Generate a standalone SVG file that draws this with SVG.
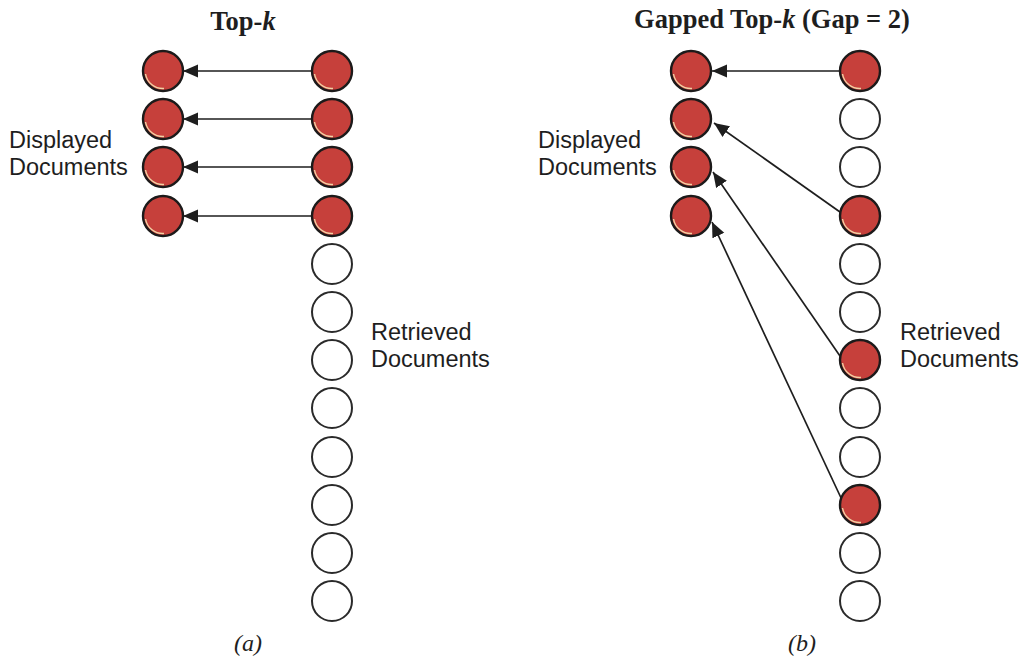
<svg xmlns="http://www.w3.org/2000/svg" width="1023" height="662" viewBox="0 0 1023 662">
<style>
  .on { fill: #c6403b; stroke: #1c1a1a; stroke-width: 2.4; }
  .off { fill: #ffffff; stroke: #2a2a2a; stroke-width: 2; }
  .hl { fill: none; stroke: #f2d3a6; stroke-width: 1.4; }
  .lbl { font-family: "Liberation Sans", Arial, sans-serif; font-size: 23.5px; fill: #1e1e1e; }
  .ttl { font-family: "Liberation Serif", "Times New Roman", serif; font-size: 26.5px; font-weight: bold; fill: #1e1e1e; }
  .cap { font-family: "Liberation Serif", "Times New Roman", serif; font-size: 24px; font-style: italic; fill: #1e1e1e; }
  .con { stroke: #1e1e1e; stroke-width: 1.7; fill: none; marker-end: url(#ah); }
</style>
<defs>
  <marker id="ah" markerUnits="userSpaceOnUse" markerWidth="16" markerHeight="14" refX="15" refY="6.5" orient="auto">
    <path d="M0,0 L15,6.5 L0,13 Z" fill="#1e1e1e"/>
  </marker>
  <g id="filled">
    <circle r="20" class="on"/>
    <path class="hl" d="M -17.5 3 A 17.5 17.5 0 0 0 1 17.5"/>
  </g>
  <circle id="empty" r="20" class="off"/>
</defs>
<rect width="1023" height="662" fill="#ffffff"/>

<text class="ttl" x="243" y="30" text-anchor="middle">Top-<tspan font-style="italic">k</tspan></text>
<text class="ttl" x="772" y="28" text-anchor="middle">Gapped Top-<tspan font-style="italic">k</tspan> (Gap = 2)</text>

<g id="connectors">
  <line class="con" x1="312" y1="71" x2="183" y2="71"/>
  <line class="con" x1="312" y1="119" x2="183" y2="119"/>
  <line class="con" x1="312" y1="167" x2="183" y2="167"/>
  <line class="con" x1="312" y1="216" x2="183" y2="216"/>
  <line class="con" x1="840" y1="71" x2="712" y2="71"/>
  <line class="con" x1="840" y1="212" x2="714" y2="123"/>
  <line class="con" x1="840" y1="356" x2="713" y2="172"/>
  <line class="con" x1="842" y1="500" x2="712" y2="222"/>
</g>

<!-- Panel (a) displayed -->
<g id="a-disp-1"><use href="#filled" x="163" y="71"/></g>
<g id="a-disp-2"><use href="#filled" x="163" y="119"/></g>
<g id="a-disp-3"><use href="#filled" x="163" y="167"/></g>
<g id="a-disp-4"><use href="#filled" x="163" y="216"/></g>
<!-- Panel (a) retrieved -->
<g id="a-ret-1"><use href="#filled" x="332" y="71"/></g>
<g id="a-ret-2"><use href="#filled" x="332" y="119"/></g>
<g id="a-ret-3"><use href="#filled" x="332" y="167"/></g>
<g id="a-ret-4"><use href="#filled" x="332" y="216"/></g>
<g id="a-ret-5"><use href="#empty" x="332" y="264"/></g>
<g id="a-ret-6"><use href="#empty" x="332" y="312"/></g>
<g id="a-ret-7"><use href="#empty" x="332" y="360"/></g>
<g id="a-ret-8"><use href="#empty" x="332" y="408"/></g>
<g id="a-ret-9"><use href="#empty" x="332" y="457"/></g>
<g id="a-ret-10"><use href="#empty" x="332" y="505"/></g>
<g id="a-ret-11"><use href="#empty" x="332" y="553"/></g>
<g id="a-ret-12"><use href="#empty" x="332" y="601"/></g>

<!-- Panel (b) displayed -->
<g id="b-disp-1"><use href="#filled" x="691" y="71"/></g>
<g id="b-disp-2"><use href="#filled" x="691" y="119"/></g>
<g id="b-disp-3"><use href="#filled" x="691" y="167"/></g>
<g id="b-disp-4"><use href="#filled" x="691" y="216"/></g>
<!-- Panel (b) retrieved -->
<g id="b-ret-1"><use href="#filled" x="860" y="71"/></g>
<g id="b-ret-2"><use href="#empty" x="860" y="119"/></g>
<g id="b-ret-3"><use href="#empty" x="860" y="167"/></g>
<g id="b-ret-4"><use href="#filled" x="860" y="216"/></g>
<g id="b-ret-5"><use href="#empty" x="860" y="264"/></g>
<g id="b-ret-6"><use href="#empty" x="860" y="312"/></g>
<g id="b-ret-7"><use href="#filled" x="860" y="360"/></g>
<g id="b-ret-8"><use href="#empty" x="860" y="408"/></g>
<g id="b-ret-9"><use href="#empty" x="860" y="457"/></g>
<g id="b-ret-10"><use href="#filled" x="860" y="505"/></g>
<g id="b-ret-11"><use href="#empty" x="860" y="553"/></g>
<g id="b-ret-12"><use href="#empty" x="860" y="601"/></g>

<g id="labels">
  <text class="lbl" x="9" y="148">Displayed</text>
  <text class="lbl" x="9" y="175">Documents</text>
  <text class="lbl" x="371" y="340">Retrieved</text>
  <text class="lbl" x="371" y="367">Documents</text>
  <text class="lbl" x="538" y="148">Displayed</text>
  <text class="lbl" x="538" y="175">Documents</text>
  <text class="lbl" x="900" y="340">Retrieved</text>
  <text class="lbl" x="900" y="367">Documents</text>
</g>

<text class="cap" x="248" y="651" text-anchor="middle">(a)</text>
<text class="cap" x="802" y="651" text-anchor="middle">(b)</text>
</svg>
